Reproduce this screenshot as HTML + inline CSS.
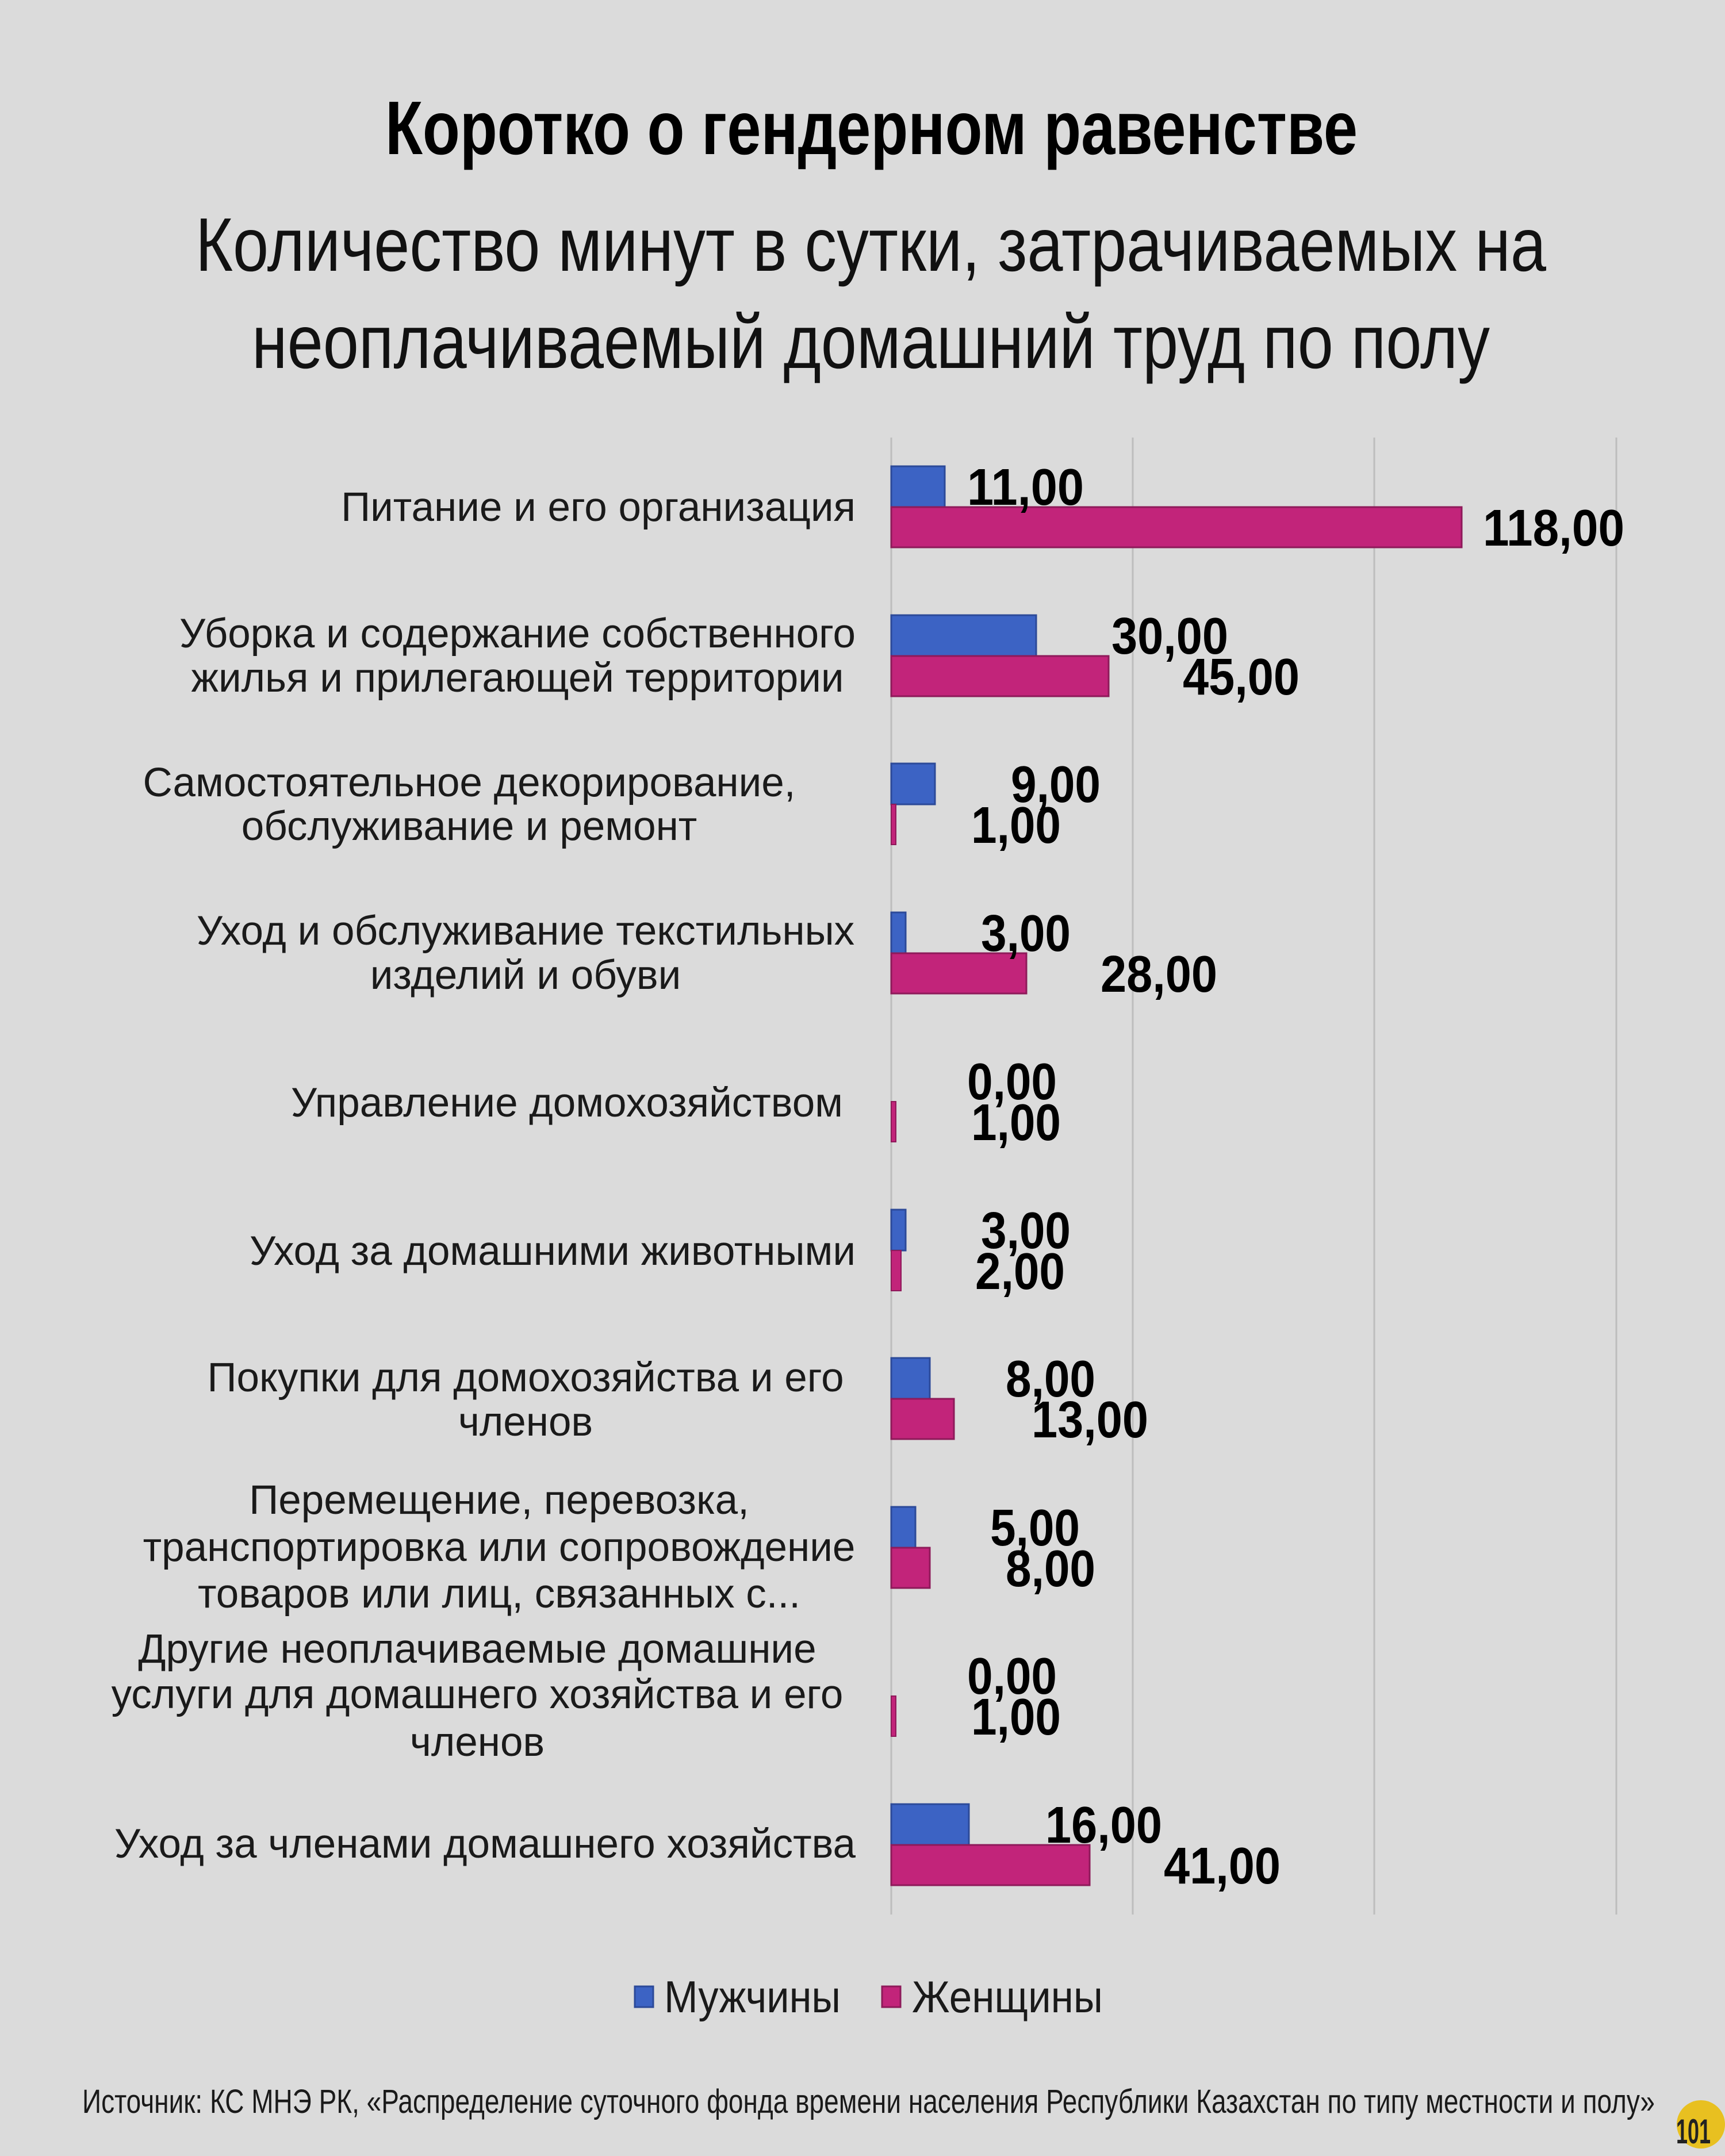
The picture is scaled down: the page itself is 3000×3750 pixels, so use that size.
<!DOCTYPE html>
<html><head><meta charset="utf-8"><style>html,body{margin:0;padding:0;background:#dbdbdb}svg{display:block}</style></head>
<body>
<svg width="3000" height="3750" viewBox="0 0 3000 3750" xmlns="http://www.w3.org/2000/svg" font-family="Liberation Sans, sans-serif">
<rect width="3000" height="3750" fill="#dbdbdb"/>
<text x="670" y="268" font-size="132" font-weight="bold" textLength="1691" lengthAdjust="spacingAndGlyphs" fill="#000">Коротко о гендерном равенстве</text>
<text x="340" y="471" font-size="132" textLength="2349" lengthAdjust="spacingAndGlyphs" fill="#111">Количество минут в сутки, затрачиваемых на</text>
<text x="438" y="640" font-size="132" textLength="2153" lengthAdjust="spacingAndGlyphs" fill="#111">неоплачиваемый домашний труд по полу</text>
<g stroke="#bdbdbd" stroke-width="3">
<line x1="1550" y1="761" x2="1550" y2="3330"/><line x1="1970" y1="761" x2="1970" y2="3330"/><line x1="2390" y1="761" x2="2390" y2="3330"/><line x1="2811" y1="761" x2="2811" y2="3330"/>
</g>
<g id="bars">
<rect x="1550" y="811" width="93" height="71" fill="#3c63c4" stroke="#2c4a99" stroke-width="3"/><rect x="1550" y="882" width="992" height="70" fill="#c2247a" stroke="#8e1a5a" stroke-width="3"/>
<rect x="1550" y="1070" width="252" height="71" fill="#3c63c4" stroke="#2c4a99" stroke-width="3"/><rect x="1550" y="1141" width="378" height="70" fill="#c2247a" stroke="#8e1a5a" stroke-width="3"/>
<rect x="1550" y="1328" width="76" height="71" fill="#3c63c4" stroke="#2c4a99" stroke-width="3"/><rect x="1550" y="1399" width="8" height="70" fill="#c2247a" stroke="#8e1a5a" stroke-width="2"/>
<rect x="1550" y="1587" width="25" height="71" fill="#3c63c4" stroke="#2c4a99" stroke-width="3"/><rect x="1550" y="1658" width="235" height="70" fill="#c2247a" stroke="#8e1a5a" stroke-width="3"/>
<rect x="1550" y="1916" width="8" height="70" fill="#c2247a" stroke="#8e1a5a" stroke-width="2"/>
<rect x="1550" y="2104" width="25" height="71" fill="#3c63c4" stroke="#2c4a99" stroke-width="3"/><rect x="1550" y="2175" width="17" height="70" fill="#c2247a" stroke="#8e1a5a" stroke-width="2"/>
<rect x="1550" y="2362" width="67" height="71" fill="#3c63c4" stroke="#2c4a99" stroke-width="3"/><rect x="1550" y="2433" width="109" height="70" fill="#c2247a" stroke="#8e1a5a" stroke-width="3"/>
<rect x="1550" y="2621" width="42" height="71" fill="#3c63c4" stroke="#2c4a99" stroke-width="3"/><rect x="1550" y="2692" width="67" height="70" fill="#c2247a" stroke="#8e1a5a" stroke-width="3"/>
<rect x="1550" y="2950" width="8" height="70" fill="#c2247a" stroke="#8e1a5a" stroke-width="2"/>
<rect x="1550" y="3138" width="135" height="71" fill="#3c63c4" stroke="#2c4a99" stroke-width="3"/><rect x="1550" y="3209" width="345" height="70" fill="#c2247a" stroke="#8e1a5a" stroke-width="3"/>
</g>
<g font-size="90" font-weight="bold" fill="#000">
<text x="1682" y="878" textLength="203" lengthAdjust="spacingAndGlyphs">11,00</text><text x="2579" y="949" textLength="246" lengthAdjust="spacingAndGlyphs">118,00</text>
<text x="1933" y="1137" textLength="203" lengthAdjust="spacingAndGlyphs">30,00</text><text x="2057" y="1208" textLength="203" lengthAdjust="spacingAndGlyphs">45,00</text>
<text x="1758" y="1395" textLength="156" lengthAdjust="spacingAndGlyphs">9,00</text><text x="1689" y="1466" textLength="156" lengthAdjust="spacingAndGlyphs">1,00</text>
<text x="1706" y="1654" textLength="156" lengthAdjust="spacingAndGlyphs">3,00</text><text x="1914" y="1725" textLength="203" lengthAdjust="spacingAndGlyphs">28,00</text>
<text x="1682" y="1912" textLength="156" lengthAdjust="spacingAndGlyphs">0,00</text><text x="1689" y="1983" textLength="156" lengthAdjust="spacingAndGlyphs">1,00</text>
<text x="1706" y="2171" textLength="156" lengthAdjust="spacingAndGlyphs">3,00</text><text x="1696" y="2242" textLength="156" lengthAdjust="spacingAndGlyphs">2,00</text>
<text x="1749" y="2429" textLength="156" lengthAdjust="spacingAndGlyphs">8,00</text><text x="1794" y="2500" textLength="203" lengthAdjust="spacingAndGlyphs">13,00</text>
<text x="1722" y="2688" textLength="156" lengthAdjust="spacingAndGlyphs">5,00</text><text x="1749" y="2759" textLength="156" lengthAdjust="spacingAndGlyphs">8,00</text>
<text x="1682" y="2946" textLength="156" lengthAdjust="spacingAndGlyphs">0,00</text><text x="1689" y="3017" textLength="156" lengthAdjust="spacingAndGlyphs">1,00</text>
<text x="1818" y="3205" textLength="203" lengthAdjust="spacingAndGlyphs">16,00</text><text x="2024" y="3276" textLength="203" lengthAdjust="spacingAndGlyphs">41,00</text>
</g>
<g font-size="71" fill="#1a1a1a">
<text x="1488" y="906" text-anchor="end">Питание и его организация</text>
<g text-anchor="middle">
<text x="900" y="1126">Уборка и содержание собственного</text><text x="900" y="1203">жилья и прилегающей территории</text>
<text x="816" y="1385">Самостоятельное декорирование,</text><text x="816" y="1461">обслуживание и ремонт</text>
<text x="914" y="1643">Уход и обслуживание текстильных</text><text x="914" y="1720">изделий и обуви</text>
<text x="914" y="2420">Покупки для домохозяйства и его</text><text x="914" y="2497">членов</text>
<text x="868" y="2633">Перемещение, перевозка,</text><text x="868" y="2715">транспортировка или сопровождение</text><text x="868" y="2796">товаров или лиц, связанных с...</text>
<text x="830" y="2892">Другие неоплачиваемые домашние</text><text x="830" y="2971">услуги для домашнего хозяйства и его</text><text x="830" y="3054">членов</text>
</g>
<text x="1466" y="1942" text-anchor="end">Управление домохозяйством</text>
<text x="1488" y="2200" text-anchor="end">Уход за домашними животными</text>
<text x="1488" y="3231" text-anchor="end">Уход за членами домашнего хозяйства</text>
</g>
<rect x="1104" y="3455" width="32" height="36" fill="#3c63c4" stroke="#2c4a99" stroke-width="3"/>
<text x="1155" y="3500" font-size="78" fill="#1a1a1a" textLength="307" lengthAdjust="spacingAndGlyphs">Мужчины</text>
<rect x="1534" y="3455" width="32" height="36" fill="#c2247a" stroke="#8e1a5a" stroke-width="3"/>
<text x="1586" y="3500" font-size="78" fill="#1a1a1a" textLength="332" lengthAdjust="spacingAndGlyphs">Женщины</text>
<text x="143" y="3675" font-size="58" fill="#1a1a1a" textLength="2735" lengthAdjust="spacingAndGlyphs">Источник: КС МНЭ РК, «Распределение суточного фонда времени населения Республики Казахстан по типу местности и полу»</text>
<circle cx="2958" cy="3695" r="42" fill="#e8c020"/>
<text x="2945" y="3728" font-size="60" font-weight="bold" fill="#222" text-anchor="middle" textLength="60" lengthAdjust="spacingAndGlyphs">101</text>
</svg>
</body></html>
